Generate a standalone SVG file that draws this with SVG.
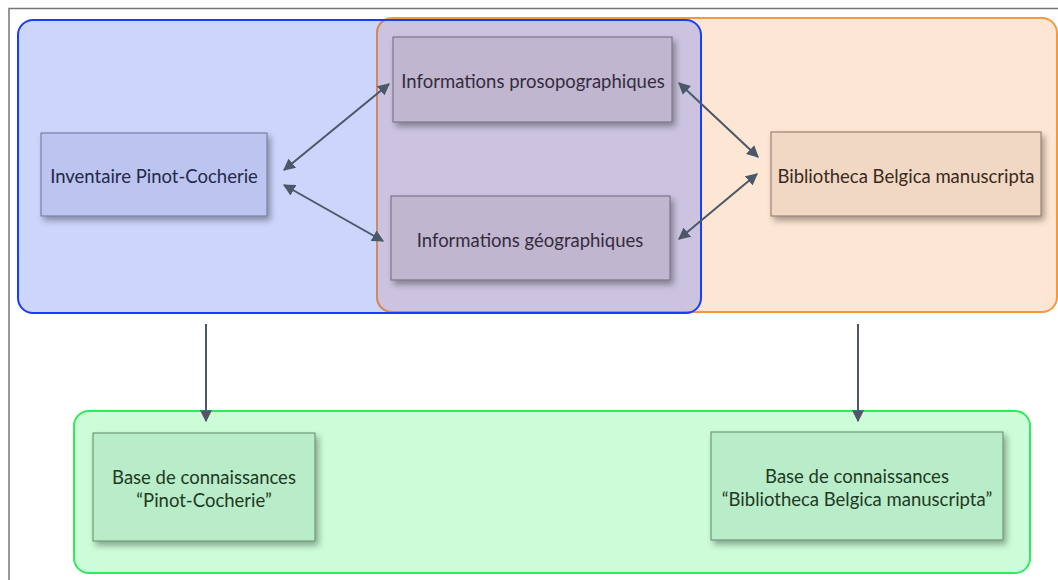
<svg xmlns="http://www.w3.org/2000/svg" width="1058" height="580" viewBox="0 0 1058 580">
<style>
.lbl{font-family:Lato,"Open Sans","Liberation Sans",sans-serif;font-size:18.5px;text-anchor:middle}
.conn{stroke:#4a5868;stroke-width:2;fill:none}
</style>
<defs>
<filter id="sh" x="-10%" y="-20%" width="125%" height="150%">
<feDropShadow dx="3" dy="4" stdDeviation="3" flood-color="#000" flood-opacity="0.35"/>
</filter>
<marker id="ah" viewBox="0 0 10 10" refX="9" refY="5" markerWidth="6" markerHeight="6" orient="auto-start-reverse" markerUnits="strokeWidth">
<path d="M0,0 L10,5 L0,10 z" fill="#4a5868"/>
</marker>
<clipPath id="blueclip"><rect x="18" y="20" width="683" height="293" rx="15"/></clipPath>
</defs>
<rect width="1058" height="580" fill="#fff"/>
<path d="M9,580 V8.5 H1058" fill="none" stroke="#777" stroke-width="1.5"/>

<g id="containers">
<rect id="orange-fill" x="377" y="18" width="680" height="294" rx="15" fill="#fde6d4"/>
<rect id="blue-fill" x="18" y="20" width="683" height="293" rx="15" fill="#ccd5fc"/>
<rect id="overlap" x="377" y="18" width="680" height="294" rx="15" fill="#cbc3df" clip-path="url(#blueclip)"/>
<rect x="377" y="18" width="680" height="294" rx="15" fill="none" stroke="#f59a3c" stroke-width="2"/>
<rect x="377" y="18" width="680" height="294" rx="15" fill="none" stroke="#cf8a62" stroke-width="2" clip-path="url(#blueclip)"/>
<rect x="18" y="20" width="683" height="293" rx="15" fill="none" stroke="#1a3cff" stroke-width="2"/>
<rect id="green-container" x="74" y="411" width="956" height="162" rx="15" fill="#ccfcd8" stroke="#2eea5c" stroke-width="2"/>
</g>

<g id="n-inventaire">
<rect x="41" y="133" width="226" height="83" fill="#bcc5ef" stroke="#6b7399" stroke-width="1" filter="url(#sh)"/>
<text class="lbl" x="154" y="183" fill="#25284a">Inventaire Pinot-Cocherie</text>
</g>
<g id="n-proso">
<rect x="393" y="37" width="279" height="85" fill="#c0b6cf" stroke="#6e6880" stroke-width="1" filter="url(#sh)"/>
<text class="lbl" x="533" y="88" fill="#352c40">Informations prosopographiques</text>
</g>
<g id="n-geo">
<rect x="391" y="196" width="279" height="84" fill="#c0b6cf" stroke="#6e6880" stroke-width="1" filter="url(#sh)"/>
<text class="lbl" x="530" y="247" fill="#352c40">Informations géographiques</text>
</g>
<g id="n-bbm">
<rect x="771" y="132" width="270" height="84" fill="#f0d8c5" stroke="#8a7262" stroke-width="1" filter="url(#sh)"/>
<text class="lbl" x="906" y="183" fill="#3a2a20">Bibliotheca Belgica manuscripta</text>
</g>
<g id="n-base-pc">
<rect x="93" y="433" width="222" height="108" fill="#b9ecc8" stroke="#5e8a6a" stroke-width="1" filter="url(#sh)"/>
<text class="lbl" x="204" y="484" fill="#1e3a24">Base de connaissances</text>
<text class="lbl" x="204" y="507" fill="#1e3a24">“Pinot-Cocherie”</text>
</g>
<g id="n-base-bbm">
<rect x="711" y="432" width="292" height="108" fill="#b9ecc8" stroke="#5e8a6a" stroke-width="1" filter="url(#sh)"/>
<text class="lbl" x="857" y="483" fill="#1e3a24">Base de connaissances</text>
<text class="lbl" x="857" y="506" fill="#1e3a24">“Bibliotheca Belgica manuscripta”</text>
</g>

<g id="connectors">
<line class="conn" x1="284" y1="170" x2="389" y2="84" marker-start="url(#ah)" marker-end="url(#ah)"/>
<line class="conn" x1="284" y1="185" x2="383" y2="241" marker-start="url(#ah)" marker-end="url(#ah)"/>
<line class="conn" x1="679" y1="83" x2="758" y2="157" marker-start="url(#ah)" marker-end="url(#ah)"/>
<line class="conn" x1="679" y1="239" x2="757" y2="174" marker-start="url(#ah)" marker-end="url(#ah)"/>
<line class="conn" x1="206" y1="324" x2="206" y2="421" marker-end="url(#ah)"/>
<line class="conn" x1="858" y1="324" x2="858" y2="421" marker-end="url(#ah)"/>
</g>
</svg>
